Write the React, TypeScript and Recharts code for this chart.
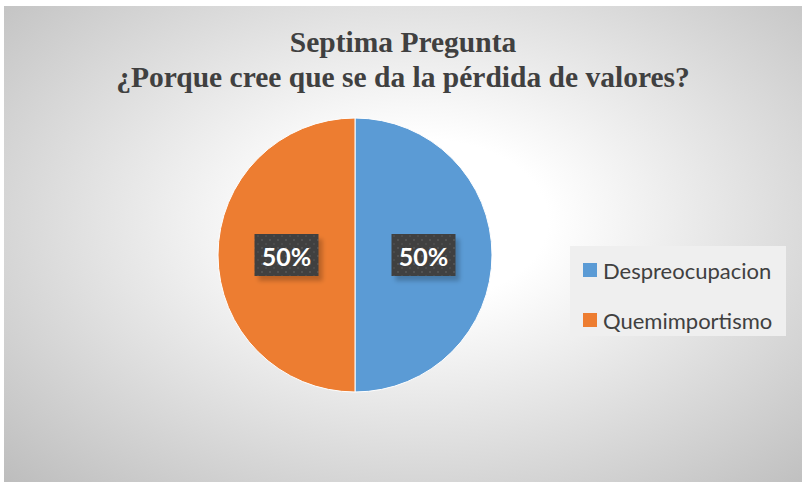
import { PieChart, Pie, Cell, Legend } from "recharts"

const categories = ["Despreocupacion", "Quemimportismo"]
const values = [50, 50]
const colors = ["#5B9BD5", "#ED7D31"]
const titleLines = ["Septima Pregunta", "¿Porque cree que se da la pérdida de valores?"]

const data = categories.map((name, i) => ({ name, value: values[i], color: colors[i] }))

const RADIAN = Math.PI / 180

function renderLabel(props: any) {
  const { cx, cy, midAngle, outerRadius, percent } = props
  const r = outerRadius * 0.5
  const x = cx + r * Math.cos(-midAngle * RADIAN)
  const y = cy + r * Math.sin(-midAngle * RADIAN)
  const w = 64
  const h = 42
  return (
    <g>
      <rect x={x - w / 2 + 4} y={y - h / 2 + 5} width={w} height={h} fill="rgba(0,0,0,0.22)" filter="url(#blur)" />
      <rect x={x - w / 2} y={y - h / 2} width={w} height={h} fill="#404040" />
      <rect x={x - w / 2} y={y - h / 2} width={w} height={h} fill="url(#dots)" />
      <text x={x} y={y + 1} textAnchor="middle" dominantBaseline="central" fill="#fff"
        style={{ fontFamily: "Lato, 'Open Sans', sans-serif", fontWeight: 700, fontSize: 25 }}>
        {`${Math.round(percent * 100)}%`}
      </text>
    </g>
  )
}

function LegendContent({ payload }: any) {
  return (
    <div style={{ background: "#efefef", width: 216, height: 90, boxSizing: "border-box", padding: "12px 0 0 13px" }}>
      {payload.map((entry: any, i: number) => (
        <div key={i} style={{ display: "flex", alignItems: "center", height: 24, marginBottom: i === 0 ? 26 : 0 }}>
          <span style={{ width: 14, height: 14, background: entry.color, display: "inline-block", marginRight: 6 }} />
          <span style={{ fontFamily: "Lato, 'Noto Sans', sans-serif", fontSize: 22, color: "#404040" }}>{entry.value}</span>
        </div>
      ))}
    </div>
  )
}

export default function App() {
  return (
    <div style={{ position: "absolute", left: 4, top: 6, width: 798, height: 476,
      background: "radial-gradient(ellipse farthest-corner at 52% 45%, #ffffff 0%, #ffffff 22%, #bdbdbd 100%)" }}>
      <div style={{ position: "absolute", left: 0, top: 19, width: 798, textAlign: "center",
        fontFamily: "'Liberation Serif', 'Times New Roman', serif", fontWeight: 700, fontSize: 29.5,
        color: "#404040", lineHeight: "35px" }}>
        {titleLines.map((t, i) => <div key={i}>{t}</div>)}
      </div>
      <PieChart width={798} height={476} margin={{ top: 0, right: 0, bottom: 0, left: 0 }}
        style={{ position: "absolute", left: 0, top: 0 }}>
        <defs>
          <pattern id="dots" width="8" height="8" patternUnits="userSpaceOnUse">
            <circle cx="2" cy="2" r="1" fill="rgba(255,255,255,0.12)" />
            <circle cx="6" cy="6" r="1" fill="rgba(255,255,255,0.08)" />
          </pattern>
          <filter id="blur" x="-20%" y="-20%" width="140%" height="140%">
            <feGaussianBlur stdDeviation="2" />
          </filter>
        </defs>
        <Pie data={data} dataKey="value" nameKey="name" cx={351} cy={249} outerRadius={137}
          startAngle={90} endAngle={-270} stroke="#ffffff" strokeWidth={1}
          label={renderLabel} labelLine={false} isAnimationActive={false}>
          {data.map((entry, index) => (
            <Cell key={`cell-${index}`} fill={entry.color} />
          ))}
        </Pie>
        <Legend layout="vertical" align="right" verticalAlign="top" content={<LegendContent />}
          wrapperStyle={{ left: 566, top: 240, width: 216 }} />
      </PieChart>
    </div>
  )
}
